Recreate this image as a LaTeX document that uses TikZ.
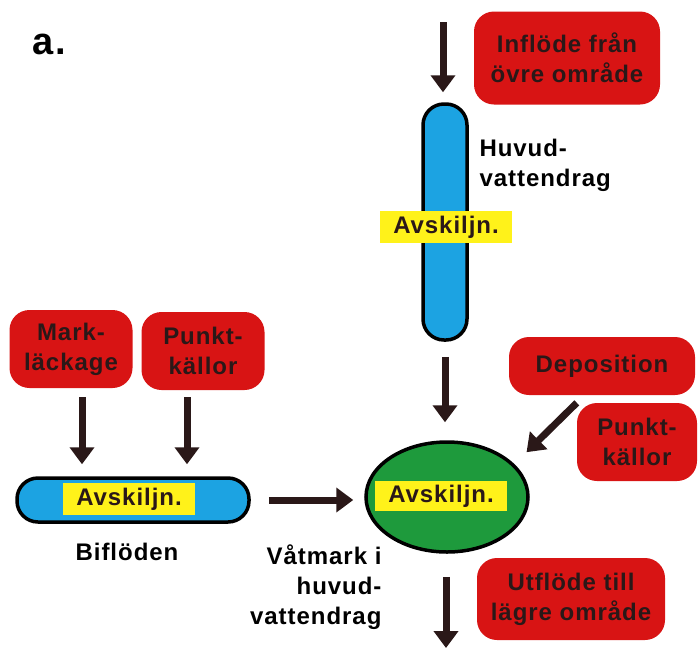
\documentclass[tikz,border=0pt]{standalone}
\usepackage{fontspec}
\setmainfont{Liberation Sans}[LetterSpace=4]
\usetikzlibrary{arrows.meta,shapes.geometric}
\definecolor{boxred}{HTML}{D81414}
\definecolor{riverblue}{HTML}{1CA3E2}
\definecolor{wetgreen}{HTML}{1E9A3C}
\definecolor{labyellow}{HTML}{FFF21A}
\definecolor{inkdark}{HTML}{2A1818}
\begin{document}
\begin{tikzpicture}[x=1pt,y=-1pt,
txt/.style ={font=\bfseries\fontsize{24}{30}\selectfont, align=center},
source/.style ={rectangle, fill=boxred, text=inkdark, txt,
  rounded corners=20pt, inner sep=0pt
},
river/.style ={rectangle, draw=black, line width=3.5pt, fill=riverblue,
  rounded corners=21pt, inner sep=0pt
},
tag/.style ={rectangle, fill=labyellow, text=inkdark, txt,
  minimum width=132pt, minimum height=32pt, inner sep=0pt
},
flow/.style ={-{Triangle[width=24pt,length=17pt]}, line width=7pt, draw=inkdark}
]
\useasboundingbox (0,0) rectangle (699,649);
\node (fig) at (49,44) {\bfseries\fontsize{38}{38}\selectfont a.};
% main stream
\node (infl) at (567,58) [source, minimum width=186pt, minimum height=93pt] {Inflöde från\\övre område};
\node (huvud) at (445,222) [river, minimum width=44pt, minimum height=236pt] {};
\node (avsk1) at (446,227) [tag] {Avskiljn.};
\node (huvtxt) at (476,165) [txt, anchor=west, align=left] {Huvud-\\vattendrag};
\coordinate (top) at (443,22);
\draw[flow, shorten >=10pt] (top) -- (top |- huvud.north);
% wetland
\node (vat) at (447,497) [ellipse, draw=black, line width=3.5pt, fill=wetgreen,
  minimum width=162pt, minimum height=110pt, inner sep=0pt] {};
\node (avsk3) at (441,496) [tag, minimum height=30pt] {Avskiljn.};
\node (vattxt) at (385,587) [txt, anchor=east, align=right] {Våtmark i\\huvud-\\vattendrag};
\draw[flow, shorten <=15pt, shorten >=18pt] (huvud.south) -- (huvud.south |- vat.north);
\node (depos) at (602,366) [source, minimum width=186pt, minimum height=58pt] {Deposition};
\node (punkt2) at (637,442) [source, minimum width=120pt, minimum height=78pt] {Punkt-\\källor};
\draw[flow, shorten >=17pt] (punkt2.north west) -- (vat.26);
\node (utfl) at (571,599) [source, minimum width=188pt, minimum height=82pt] {Utflöde till\\lägre område};
\coordinate (bottom) at (446,648);
\draw[flow, shorten <=23pt] (vat.south -| bottom) -- (bottom);
% tributary
\node (mark) at (71,349) [source, minimum width=123pt, minimum height=78pt] {Mark-\\läckage};
\node (punkt1) at (203,351) [source, minimum width=123pt, minimum height=78pt] {Punkt-\\källor};
\node (bifl) at (133,500) [river, minimum width=232pt, minimum height=44pt] {};
\node (avsk2) at (129,499) [tag] {Avskiljn.};
\node (bifltxt) at (127,552) [txt] {Biflöden};
\draw[flow, shorten <=9pt, shorten >=12pt] ([xshift=11pt]mark.south) -- ([xshift=11pt]mark.south |- bifl.north);
\draw[flow, shorten <=7pt, shorten >=12pt] ([xshift=-16pt]punkt1.south) -- ([xshift=-16pt]punkt1.south |- bifl.north);
\draw[flow, shorten <=18pt, shorten >=11pt] (bifl.east) -- (vat.west |- bifl.east);
\end{tikzpicture}
\end{document}
